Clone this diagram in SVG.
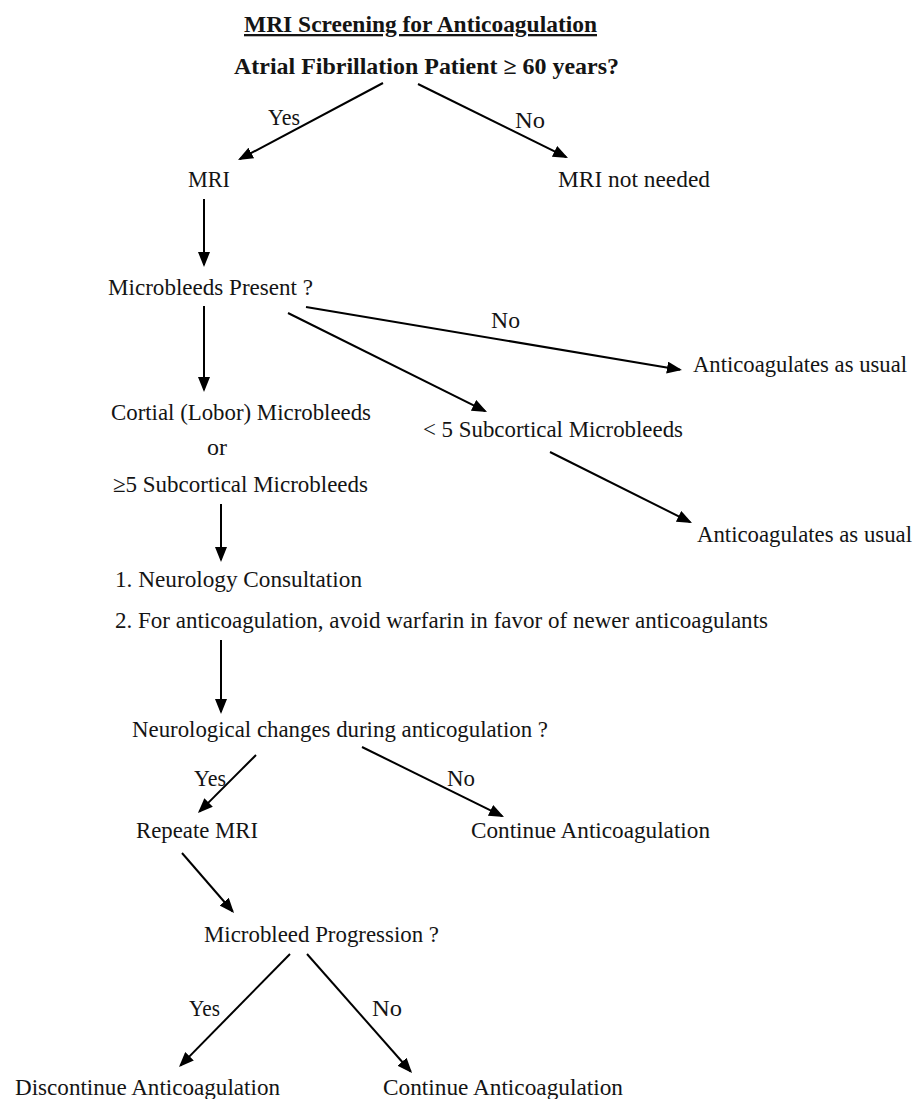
<svg xmlns="http://www.w3.org/2000/svg" width="914" height="1099" viewBox="0 0 914 1099">
<style>
text{font-family:"Liberation Serif","Times New Roman",serif;font-size:23px;fill:#141414;}
.b{font-weight:bold;}
.u{text-decoration:underline;}
.c line{stroke:#000;stroke-width:2;fill:none;marker-end:url(#ah);}
</style>
<defs>
<marker id="ah" markerUnits="userSpaceOnUse" markerWidth="16" markerHeight="12" refX="13" refY="6" orient="auto">
<path d="M0,0 L15,6 L0,12 z" fill="#000"/>
</marker>
</defs>
<rect width="914" height="1099" fill="#fff"/>
<g id="title"><text class="b u" x="244" y="32" textLength="353" lengthAdjust="spacingAndGlyphs">MRI Screening for Anticoagulation</text></g>
<g id="n-af"><text class="b" x="234" y="74" textLength="385" lengthAdjust="spacingAndGlyphs">Atrial Fibrillation Patient ≥ 60 years?</text></g>
<g id="n-mri"><text x="188" y="187" textLength="42" lengthAdjust="spacingAndGlyphs">MRI</text></g>
<g id="n-mri-not"><text x="558" y="187" textLength="152" lengthAdjust="spacingAndGlyphs">MRI not needed</text></g>
<g id="n-mb"><text x="108" y="295" textLength="205" lengthAdjust="spacingAndGlyphs">Microbleeds Present ?</text></g>
<g id="n-ac1"><text x="693" y="372" textLength="214" lengthAdjust="spacingAndGlyphs">Anticoagulates as usual</text></g>
<g id="n-cort">
<text x="111" y="420" textLength="260" lengthAdjust="spacingAndGlyphs">Cortial (Lobor) Microbleeds</text>
<text x="207" y="455" textLength="20" lengthAdjust="spacingAndGlyphs">or</text>
<text x="113" y="492" textLength="255" lengthAdjust="spacingAndGlyphs">≥5 Subcortical Microbleeds</text>
</g>
<g id="n-lt5"><text x="423" y="437" textLength="260" lengthAdjust="spacingAndGlyphs">&lt; 5 Subcortical Microbleeds</text></g>
<g id="n-ac2"><text x="697" y="542" textLength="215" lengthAdjust="spacingAndGlyphs">Anticoagulates as usual</text></g>
<g id="n-neuro-consult">
<text x="115" y="587" textLength="247" lengthAdjust="spacingAndGlyphs">1. Neurology Consultation</text>
<text x="115" y="628" textLength="653" lengthAdjust="spacingAndGlyphs">2. For anticoagulation, avoid warfarin in favor of  newer anticoagulants</text>
</g>
<g id="n-neuro-changes"><text x="132" y="737" textLength="416" lengthAdjust="spacingAndGlyphs">Neurological changes during anticogulation ?</text></g>
<g id="n-repeat"><text x="136" y="838" textLength="122" lengthAdjust="spacingAndGlyphs">Repeate MRI</text></g>
<g id="n-cont1"><text x="471" y="838" textLength="239" lengthAdjust="spacingAndGlyphs">Continue Anticoagulation</text></g>
<g id="n-prog"><text x="204" y="942" textLength="235" lengthAdjust="spacingAndGlyphs">Microbleed Progression ?</text></g>
<g id="n-discont"><text x="15" y="1095" textLength="265" lengthAdjust="spacingAndGlyphs">Discontinue Anticoagulation</text></g>
<g id="n-cont2"><text x="383" y="1095" textLength="240" lengthAdjust="spacingAndGlyphs">Continue Anticoagulation</text></g>
<g id="connectors" class="c">
<line x1="383" y1="83" x2="239.8" y2="159.1"/>
<line x1="418" y1="84" x2="566.2" y2="157.1"/>
<line x1="204" y1="199" x2="204" y2="265"/>
<line x1="204" y1="306" x2="204" y2="390"/>
<line x1="288" y1="313" x2="485.2" y2="411.1"/>
<line x1="306" y1="307" x2="680" y2="369.7"/>
<line x1="550" y1="452" x2="690.2" y2="522.1"/>
<line x1="221" y1="504" x2="221" y2="560"/>
<line x1="221" y1="640" x2="221" y2="712"/>
<line x1="256" y1="755" x2="199.4" y2="811.6"/>
<line x1="362" y1="747" x2="502.2" y2="816.1"/>
<line x1="182" y1="853" x2="232.7" y2="911.5"/>
<line x1="290" y1="954" x2="180.4" y2="1065.6"/>
<line x1="307" y1="954" x2="410.7" y2="1071.5"/>
</g>
<g id="labels">
<text x="268" y="125" textLength="32" lengthAdjust="spacingAndGlyphs">Yes</text>
<text x="515" y="128" textLength="30" lengthAdjust="spacingAndGlyphs">No</text>
<text x="491" y="328" textLength="29" lengthAdjust="spacingAndGlyphs">No</text>
<text x="194" y="786" textLength="32" lengthAdjust="spacingAndGlyphs">Yes</text>
<text x="447" y="786" textLength="28" lengthAdjust="spacingAndGlyphs">No</text>
<text x="189" y="1016" textLength="31" lengthAdjust="spacingAndGlyphs">Yes</text>
<text x="372" y="1016" textLength="30" lengthAdjust="spacingAndGlyphs">No</text>
</g>
</svg>
